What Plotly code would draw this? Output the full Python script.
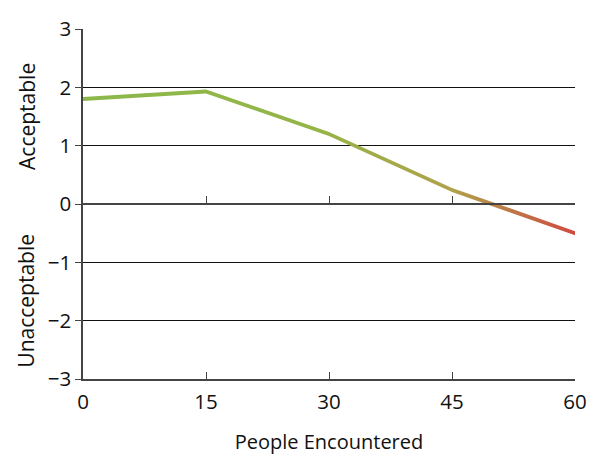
import plotly.graph_objects as go

people = [0, 15, 30, 45, 60]
rating = [1.8, 1.93, 1.2, 0.24, -0.5]

x_ticks = [0, 15, 30, 45, 60]
y_ticks = [-3, -2, -1, 0, 1, 2, 3]

half = 0.035  # half stroke thickness in data units
band_x = people + people[::-1]
band_y = [v + half for v in rating] + [v - half for v in rating][::-1]

axis_gray = '#444'
tick_font = dict(family='Open Sans', size=20.5, color='#111')
label_font = dict(family='Open Sans', size=21, color='#111')

fig = go.Figure()
fig.add_trace(go.Scatter(
    x=band_x, y=band_y, mode='lines', fill='toself',
    line=dict(width=0, color='rgba(0,0,0,0)'),
    fillgradient=dict(
        type='horizontal',
        colorscale=[[0, '#8CB84A'], [0.45, '#94B548'], [0.75, '#B0A24A'], [1, '#CF4A42']]
    ),
    hoverinfo='skip', showlegend=False
))
# invisible trace to bring up the second x axis at y = 0
fig.add_trace(go.Scatter(x=people, y=rating, xaxis='x2', mode='lines',
                         line=dict(width=0), hoverinfo='skip', showlegend=False))

# page body has an 8px margin, so the figure is a bit smaller than the window
fig.update_layout(
    width=592, height=457,
    margin=dict(l=75, r=25, t=21, b=86, autoexpand=False),
    plot_bgcolor='white', paper_bgcolor='white',
    font=dict(family='Open Sans', size=19, color='#111'),
    xaxis=dict(
        range=[0, 60], tickvals=x_ticks, ticks='inside', ticklen=7,
        tickcolor=axis_gray, showline=True, linecolor=axis_gray, linewidth=1.5,
        showgrid=False, zeroline=False, ticklabelstandoff=4, automargin=False,
        title=dict(text='People Encountered', standoff=21,
                   font=dict(family='Open Sans', size=20, color='#111')),
        tickfont=tick_font
    ),
    xaxis2=dict(
        range=[0, 60], overlaying='x', anchor='free', position=0.5, side='bottom',
        tickvals=x_ticks[1:], ticks='inside', ticklen=7, tickcolor=axis_gray,
        showticklabels=False, showline=True, linecolor=axis_gray, linewidth=1.5,
        showgrid=False, zeroline=False, automargin=False
    ),
    yaxis=dict(
        range=[-3, 3], tickvals=y_ticks, ticks='outside', ticklen=6,
        tickcolor=axis_gray, showline=True, linecolor=axis_gray, linewidth=1.5,
        showgrid=True, gridcolor='#111', gridwidth=1, zeroline=False,
        automargin=False, tickfont=tick_font
    ),
    annotations=[
        dict(text='Acceptable', x=-0.115, xref='paper', y=1.5, yref='y',
             xanchor='center', yanchor='middle',
             textangle=-90, showarrow=False, font=label_font),
        dict(text='Unacceptable', x=-0.115, xref='paper', y=-1.65, yref='y',
             xanchor='center', yanchor='middle',
             textangle=-90, showarrow=False, font=label_font),
    ],
)

fig.write_html("out.html")
